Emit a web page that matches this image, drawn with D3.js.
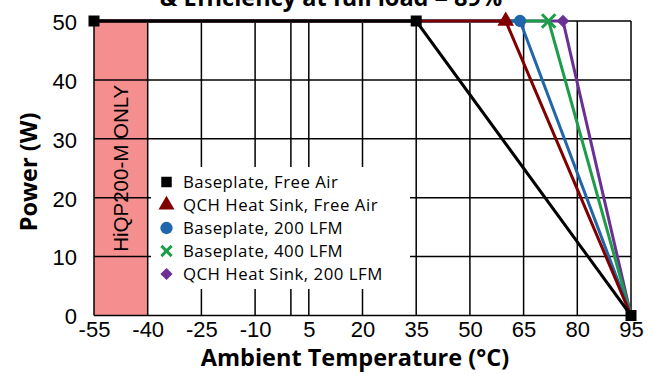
<!DOCTYPE html>
<meta charset="utf-8">
<style>
body { margin:0; background:#fff; }
.tick text { font-family:"Liberation Sans", Arial, sans-serif; font-size:22px; fill:#000; }
.grid line { stroke:#000; stroke-width:1.5px; }
.ttl { font-family:"Open Sans", sans-serif; font-weight:bold; font-size:23.5px; }
.leg text { font-family:"Open Sans", sans-serif; font-size:16.8px; letter-spacing:0.5px; }
</style>
<body>
<script src="https://d3js.org/d3.v7.min.js"></script>
<script>

// series: temperature (°C) vs power (W)
var names = ["Baseplate, Free Air","QCH Heat Sink, Free Air","Baseplate, 200 LFM","Baseplate, 400 LFM","QCH Heat Sink, 200 LFM"];
var colors = ["#000000","#800000","#1f66ab","#1e9c4a","#6a3093"];
var symbols = ["square","triangle","circle","cross","diamond"];
var temps = [
	[-55,35,95],
	[-55,60,95],
	[-55,64,95],
	[-55,72,95],
	[-55,76,95]
];
var power = [
	[50,50,0],
	[50,50,0],
	[50,50,0],
	[50,50,0],
	[50,50,0]
];
var xTicks = [-55,-40,-25,-10,5,20,35,50,65,80,95];
var xGrid = [-55,-40,-25,-10,0,5,20,35,50,65,80,95];
var yTicks = [0,10,20,30,40,50];
var bandRange = [-55,-40];
var bandLabel = "HiQP200-M ONLY";
var title = "& Efficiency at full load = 89%";

var W = 654, H = 374;
var svg = d3.select("body").append("svg").attr("width",W).attr("height",H);

var x = d3.scaleLinear().domain([-55,95]).range([94,631]);
var y = d3.scaleLinear().domain([0,50]).range([315.5,21]);

// shaded band
svg.append("rect")
	.attr("x",x(bandRange[0])).attr("y",y(50))
	.attr("width",x(bandRange[1])-x(bandRange[0])).attr("height",y(0)-y(50))
	.attr("fill","#f58f8f");

svg.append("text")
	.attr("transform","translate("+((x(bandRange[0])+x(bandRange[1]))/2+7)+","+((y(0)+y(50))/2)+") rotate(-90)")
	.attr("text-anchor","middle")
	.style("font-family","Liberation Sans, Arial, sans-serif").style("font-size","20.5px")
	.text(bandLabel);

// grid
var grid = svg.append("g").attr("class","grid");
grid.selectAll(".v").data(xGrid).enter().append("line")
	.attr("x1",d=>x(d)).attr("x2",d=>x(d)).attr("y1",y(0)).attr("y2",y(50));
grid.selectAll(".h").data(yTicks).enter().append("line")
	.attr("y1",d=>y(d)).attr("y2",d=>y(d)).attr("x1",x(-55)).attr("x2",x(95));

// axes (labels only)
var xa = svg.append("g").attr("transform","translate(0,"+y(0)+")")
	.call(d3.axisBottom(x).tickValues(xTicks).tickSize(0).tickPadding(6).tickFormat(d=>String(d)));
xa.select(".domain").remove();
var ya = svg.append("g").attr("transform","translate("+x(-55)+",0)")
	.call(d3.axisLeft(y).tickValues(yTicks).tickSize(0).tickPadding(17));
ya.select(".domain").remove();
ya.selectAll(".tick text").attr("dy","0.38em");

// series lines
var line = d3.line().x(d=>x(d[0])).y(d=>y(d[1]));
var order = [4,3,2,1,0];
order.forEach(function(i){
	var pts = temps[i].map((t,j)=>[t,power[i][j]]);
	svg.append("path").datum(pts)
		.attr("d",line).attr("fill","none")
		.attr("stroke",colors[i]).attr("stroke-width",3);
});

function sym(name, size){
	var types = {square:d3.symbolSquare, triangle:d3.symbolTriangle, circle:d3.symbolCircle, cross:d3.symbolX, diamond:d3.symbolSquare};
	return d3.symbol().type(types[name]).size(size)();
}
function drawMarker(g, i, cx, cy, size){
	var rot = symbols[i]=="diamond" ? " rotate(45)" : "";
	var p = g.append("path").attr("d",sym(symbols[i],size))
		.attr("transform","translate("+cx+","+cy+")"+rot);
	if(symbols[i]=="cross") p.attr("fill","none").attr("stroke",colors[i]).attr("stroke-width",3);
	else p.attr("fill",colors[i]);
}

// knee markers for coloured series, black squares at all black points
[1,2,3,4].forEach(function(i){
	drawMarker(svg, i, x(temps[i][1]), y(power[i][1]), symbols[i]=="diamond"?80:120);
});
temps[0].forEach(function(t,j){
	drawMarker(svg, 0, x(t), y(power[0][j]), 121);
});

// legend
var lg = svg.append("g").attr("class","leg");
lg.append("rect").attr("x",151).attr("y",167).attr("width",259).attr("height",122).attr("fill","#fff");
names.forEach(function(n,i){
	var cy = 182 + i*23;
	var s = {square:110, triangle:110, circle:120, cross:70, diamond:75}[symbols[i]];
	drawMarker(lg, i, 166.5, cy, s);
	lg.append("text").attr("x",183).attr("y",cy).attr("dy","0.36em").text(n);
});

// titles
svg.append("text").attr("class","ttl").attr("x",331).attr("y",6).attr("text-anchor","middle").text(title);
svg.append("text").attr("class","ttl").attr("x",355).attr("y",366).attr("text-anchor","middle").text("Ambient Temperature (°C)");
svg.append("text").attr("class","ttl")
	.attr("transform","translate(37,172) rotate(-90)").attr("text-anchor","middle").text("Power (W)");

</script>
</body>
